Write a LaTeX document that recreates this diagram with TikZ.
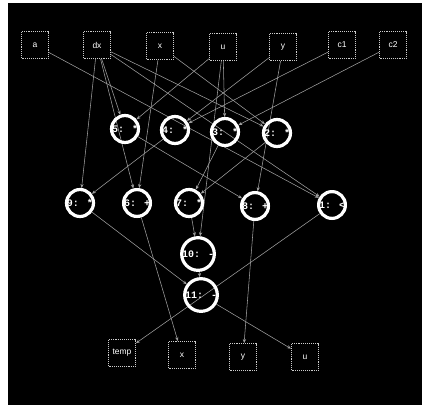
\documentclass[tikz,border=0pt]{standalone}
\usepackage{fontspec}
\setmainfont{Liberation Sans}
\newfontfamily\labmono{Liberation Mono}
\usetikzlibrary{arrows.meta}
\pgfdeclarelayer{bg}
\pgfdeclarelayer{edgelayer}
\pgfsetlayers{bg,edgelayer,main}
\begin{document}
\begin{tikzpicture}[x=1pt,y=-1pt,
  io/.style={draw=gray!40, densely dotted, line width=0.9pt, fill=black, minimum width=27pt, minimum height=27pt, text=white, font=\fontsize{8.5}{8.5}\selectfont, inner sep=0pt},
  op/.style={circle, draw=white, line width=3.2pt, minimum size=26.8pt, inner sep=0pt, text=white, font=\labmono\bfseries\fontsize{10}{10}\selectfont},
  flow/.style={draw=gray!75, line width=0.55pt, -{Stealth[length=4pt,width=3.2pt]}}]
\begin{pgfonlayer}{bg}
\fill[white] (0,0) rectangle (427,408);
\fill[black] (8,3) rectangle (422,405);
\end{pgfonlayer}
% inputs
\node[io] (a)  at (35,45) {a};
\node[io] (dx) at (97,45) {dx};
\node[io] (xi) at (160,46) {x};
\node[io] (ui) at (223,47) {u};
\node[io] (yi) at (283,47) {y};
\node[io] (c1) at (342,45) {c1};
\node[io] (c2) at (393,45) {c2};
% row 1
\node[op] (n5) at (125,129) {5: *};
\node[op] (n4) at (175,130) {4: *};
\node[op] (n3) at (225,132) {3: *};
\node[op] (n2) at (277,133) {2: *};
% row 2
\node[op] (n9) at (80,203) {9: *};
\node[op] (n6) at (137,203) {6: +};
\node[op] (n7) at (189,203) {7: *};
\node[op] (n8) at (255,206) {8: +};
\node[op] (n1) at (332,205) {1: <};
% row 3, 4
\node[op] (n10) at (198,254) {10: -};
\node[op] (n11) at (201,295) {11: -};
% outputs
\node[io] (temp) at (122,353) {temp};
\node[io] (xo) at (182,355) {x};
\node[io] (yo) at (243,357) {y};
\node[io] (uo) at (305,357) {u};
\begin{pgfonlayer}{edgelayer}
\draw[flow] (dx) -- (n5);
\draw[flow] (ui) -- (n5);
\draw[flow] (c1) -- (n4);
\draw[flow] (yi) -- (n4);
\draw[flow] (ui) -- (n3);
\draw[flow] (c2) -- (n3);
\draw[flow] (xi) -- (n2);
\draw[flow] (dx) -- (n2);
\draw[flow] (dx) -- (n9);
\draw[flow] (n4) -- (n9);
\draw[flow] (xi) -- (n6);
\draw[flow] (dx) -- (n6);
\draw[flow] (n2) -- (n7);
\draw[flow] (n3) -- (n7);
\draw[flow] (yi) -- (n8);
\draw[flow] (n5) -- (n8);
\draw[flow] (a) -- (n1);
\draw[flow] (dx) -- (n1);
\draw[flow] (ui) -- (n10);
\draw[flow] (n7) -- (n10);
\draw[flow] (n10) -- (n11);
\draw[flow] (n9) -- (n11);
\draw[flow] (n1) -- (temp);
\draw[flow] (n6) -- (xo);
\draw[flow] (n8) -- (yo);
\draw[flow] (n11) -- (uo);
\end{pgfonlayer}
\end{tikzpicture}
\end{document}
